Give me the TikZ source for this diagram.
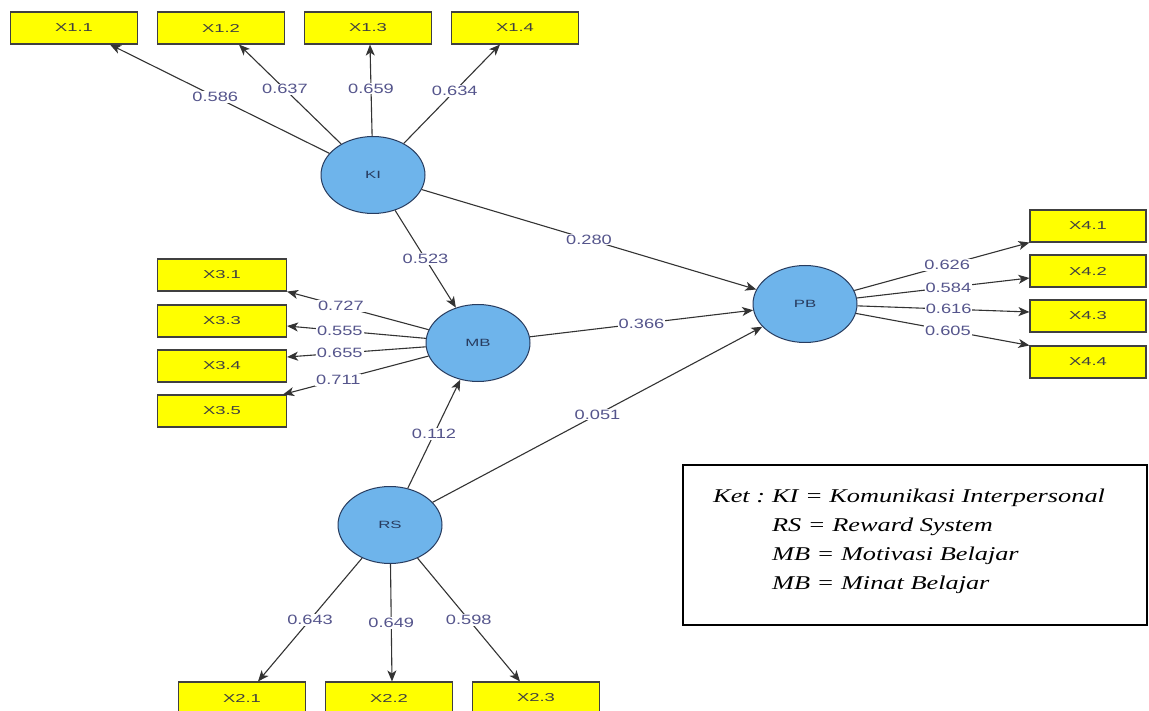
\documentclass[tikz,border=0pt]{standalone}
\usepackage{fontspec}
\setmainfont{Liberation Sans}
\newfontfamily\coeffont[FakeStretch=1.35]{Liberation Sans}
\newfontfamily\boxfont[FakeStretch=1.6]{Liberation Sans}
\newfontfamily\ketfont[FakeStretch=1.35]{Liberation Serif}
\usetikzlibrary{arrows.meta, shapes.geometric}
\definecolor{indfill}{RGB}{255,255,0}
\definecolor{latfill}{RGB}{110,180,235}
\definecolor{latdraw}{RGB}{40,60,95}
\definecolor{coeftext}{RGB}{85,85,140}

\begin{document}
\begin{tikzpicture}[
		x=1pt, y=-1pt,
		ind/.style={rectangle, draw=black!75, fill=indfill, line width=1.1pt, minimum width=127pt, minimum height=32pt, inner sep=0pt, font=\boxfont\fontsize{11.5}{13}\selectfont, text=black!75},
		lat/.style={ellipse, draw=latdraw, fill=latfill, line width=1pt, minimum width=104pt, minimum height=77pt, inner sep=0pt, font=\boxfont\fontsize{10.5}{12}\selectfont, text=latdraw},
		coef/.style={fill=white, inner sep=1pt, font=\coeffont\fontsize{13.5}{15}\selectfont, text=coeftext},
		link/.style={draw=black!80, line width=1.1pt, -{Stealth[length=11pt, width=9pt, inset=3pt]}}
	]
  \useasboundingbox (0, 0) rectangle (1149, 711);
  % latent variables
  \node (KI) [lat] at (373, 175) {KI};
  \node (MB) [lat] at (478, 343) {MB};
  \node (PB) [lat] at (805, 304) {PB};
  \node (RS) [lat] at (390, 525) {RS};
  % indicators
  \node (x1_1) [ind] at (74, 28) {X1.1};
  \node (x1_2) [ind] at (221, 28) {X1.2};
  \node (x1_3) [ind] at (368, 28) {X1.3};
  \node (x1_4) [ind] at (515, 28) {X1.4};
  \node (x3_1) [ind, minimum width=129pt] at (222, 275) {X3.1};
  \node (x3_3) [ind, minimum width=129pt] at (222, 321) {X3.3};
  \node (x3_4) [ind, minimum width=129pt] at (222, 366) {X3.4};
  \node (x3_5) [ind, minimum width=129pt] at (222, 411) {X3.5};
  \node (x4_1) [ind, minimum width=116pt] at (1088, 226) {X4.1};
  \node (x4_2) [ind, minimum width=116pt] at (1088, 271) {X4.2};
  \node (x4_3) [ind, minimum width=116pt] at (1088, 316) {X4.3};
  \node (x4_4) [ind, minimum width=116pt] at (1088, 362) {X4.4};
  \node (x2_1) [ind] at (242, 698) {X2.1};
  \node (x2_2) [ind] at (389, 698) {X2.2};
  \node (x2_3) [ind] at (536, 698) {X2.3};
  % loadings
  \draw [link] (KI) -- node [coef, pos=0.52] {0.586} ([xshift=36pt]x1_1.south);
  \draw [link] (KI) -- node [coef, pos=0.55] {0.637} ([xshift=18pt]x1_2.south);
  \draw [link] (KI) -- node [coef, pos=0.52] {0.659} ([xshift=2pt]x1_3.south);
  \draw [link] (KI) -- node [coef, pos=0.53] {0.634} ([xshift=-15pt]x1_4.south);
  \draw [link] (MB) -- node [coef, pos=0.62] {0.727} (x3_1.south east);
  \draw [link] (MB) -- node [coef, pos=0.62] {0.555} ([yshift=-5pt]x3_3.east);
  \draw [link] (MB) -- node [coef, pos=0.62] {0.655} ([yshift=9pt]x3_4.east);
  \draw [link] (MB) -- node [coef, pos=0.62] {0.711} ([xshift=-4pt]x3_5.north east);
  \draw [link] (PB) -- node [coef, pos=0.53] {0.626} (x4_1.south west);
  \draw [link] (PB) -- node [coef, pos=0.53] {0.584} ([yshift=-7pt]x4_2.west);
  \draw [link] (PB) -- node [coef, pos=0.53] {0.616} ([yshift=4pt]x4_3.west);
  \draw [link] (PB) -- node [coef, pos=0.53] {0.605} (x4_4.north west);
  \draw [link] (RS) -- node [coef] {0.643} ([xshift=16pt]x2_1.north);
  \draw [link] (RS) -- node [coef] {0.649} ([xshift=3pt]x2_2.north);
  \draw [link] (RS) -- node [coef] {0.598} ([xshift=-16pt]x2_3.north);
  % paths
  \draw [link] (KI) -- node [coef] {0.280} (PB);
  \draw [link] (KI) -- node [coef] {0.523} (MB);
  \draw [link] (MB) -- node [coef] {0.366} (PB);
  \draw [link] (RS) -- node [coef] {0.112} (MB);
  \draw [link] (RS) -- node [coef] {0.051} (PB);
  % legend
  \node (ket) [draw=black, line width=1.2pt, minimum width=464pt, minimum height=160pt, inner sep=0pt] at (915, 545) {};
  \node (ket_text) [anchor=north west, inner sep=0pt, font=\ketfont\itshape\fontsize{19.5}{29}\selectfont] at (713, 482) {%
    \begin{tabular}{@{}l@{\hspace{7pt}}l@{}}
      Ket : & KI = Komunikasi Interpersonal\\
       & RS = Reward System\\
       & MB = Motivasi Belajar\\
       & MB = Minat Belajar
    \end{tabular}};
\end{tikzpicture}
\end{document}
